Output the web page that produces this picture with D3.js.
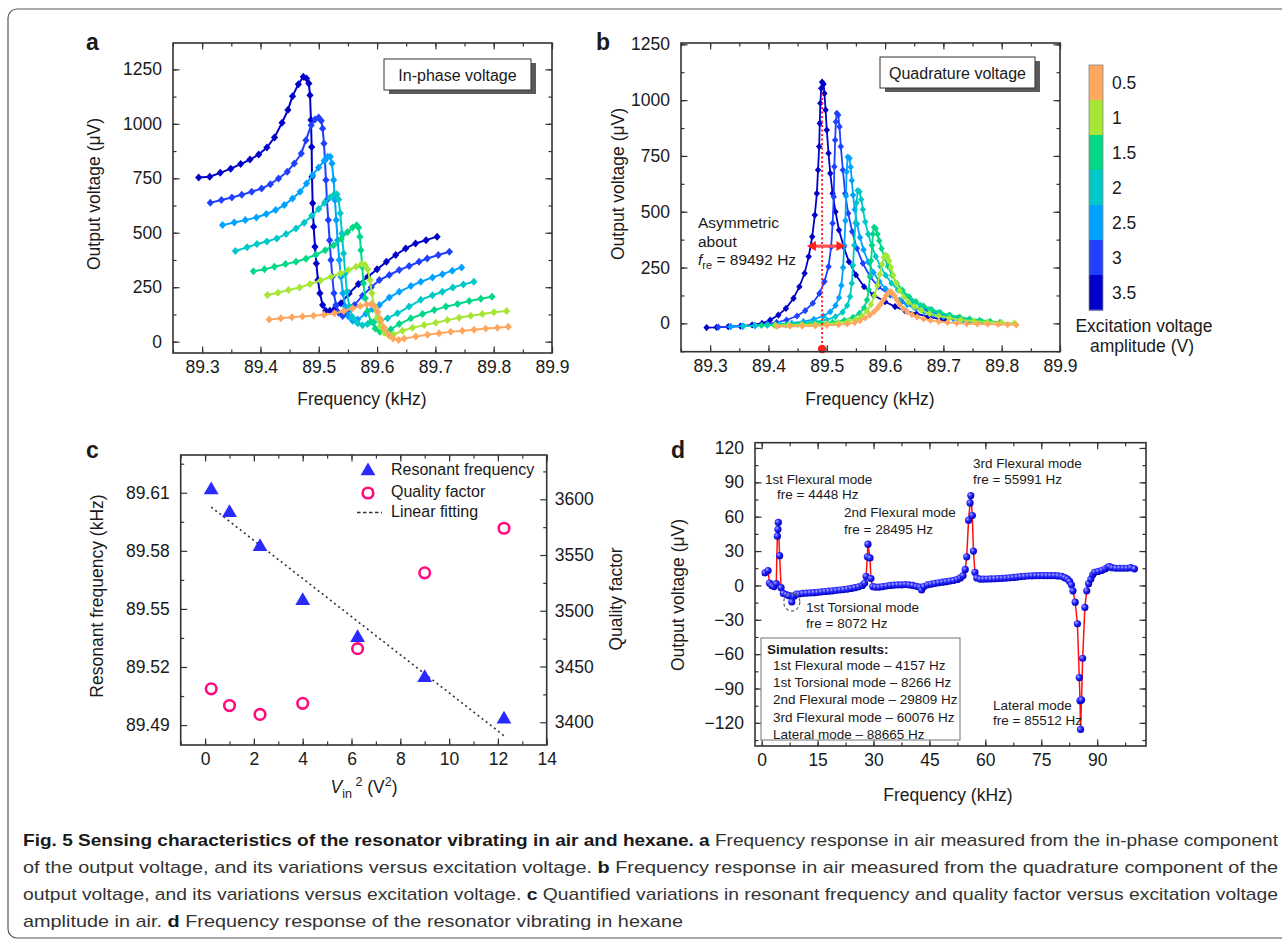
<!DOCTYPE html>
<html>
<head>
<meta charset="utf-8">
<title>Fig. 5 Sensing characteristics of the resonator</title>
<script src="https://d3js.org/d3.v7.min.js"></script>
<style>
  body { margin: 0; background: #fff; }
  svg text { font-family: "Liberation Sans", Arial, Helvetica, sans-serif; fill: #1a1a1a; }
  .tick text { font-size: 17.5px; }
  .tick line { stroke: #333; stroke-width: 1.2; }
</style>
</head>
<body>
<svg id="fig" width="1282" height="944"></svg>
<script>
// ---- data ----
const ampLabels = ["3.5", "3", "2.5", "2", "1.5", "1", "0.5"];
const ampColors = ["#0000c8", "#2040ff", "#00a2ff", "#00c8c8", "#00d787", "#a6e635", "#ffa75e"];

// a: in-phase voltage [kHz, uV]
const aV35 = [[89.294,754],[89.313,757],[89.331,775],[89.349,794],[89.366,815],[89.382,836],[89.397,859],[89.411,891],[89.424,937],[89.437,1005],[89.447,1063],[89.455,1127],[89.465,1182],[89.4735,1216],[89.479,1208],[89.483,1185],[89.485,1131],[89.4866,1017],[89.4878,894],[89.4884,757],[89.4895,635],[89.4912,528],[89.4935,436],[89.4958,359],[89.4986,283],[89.502,222],[89.5066,168],[89.512,142],[89.519,142],[89.528,153],[89.538,176],[89.552,222],[89.568,265],[89.584,298],[89.600,332],[89.616,367],[89.632,398],[89.649,428],[89.666,451],[89.684,466],[89.703,482]];
const aV30 = [[89.314,638],[89.333,650],[89.351,662],[89.368,674],[89.385,688],[89.402,703],[89.417,723],[89.431,749],[89.446,780],[89.458,818],[89.470,864],[89.478,925],[89.487,994],[89.4935,1020],[89.4998,1029],[89.5043,1014],[89.5066,979],[89.5089,910],[89.5106,833],[89.5123,742],[89.514,650],[89.5163,558],[89.5186,466],[89.5209,375],[89.5232,298],[89.526,222],[89.5295,168],[89.534,133],[89.541,118],[89.548,127],[89.561,168],[89.575,211],[89.590,250],[89.604,283],[89.621,306],[89.638,329],[89.655,347],[89.672,367],[89.686,382],[89.705,398],[89.724,413]];
const aV25 = [[89.335,535],[89.355,547],[89.374,558],[89.393,570],[89.410,586],[89.426,604],[89.441,627],[89.455,657],[89.468,688],[89.479,726],[89.4895,765],[89.4998,800],[89.5095,830],[89.5152,849],[89.5198,849],[89.5226,818],[89.5255,742],[89.5277,650],[89.530,558],[89.5323,466],[89.5352,375],[89.538,298],[89.5414,222],[89.5454,161],[89.5511,115],[89.558,96],[89.5666,102],[89.5808,128],[89.592,150],[89.604,168],[89.621,203],[89.638,229],[89.658,255],[89.675,275],[89.695,295],[89.712,310],[89.729,326],[89.745,341]];
const aV20 = [[89.357,416],[89.377,433],[89.394,448],[89.411,460],[89.428,474],[89.444,494],[89.461,520],[89.475,546],[89.488,578],[89.4998,609],[89.510,638],[89.5192,662],[89.5266,677],[89.5312,677],[89.534,653],[89.5369,589],[89.5397,497],[89.5426,405],[89.5454,313],[89.5483,229],[89.5523,161],[89.558,112],[89.5666,84],[89.5751,75],[89.5837,81],[89.5951,92],[89.606,97],[89.618,108],[89.635,130],[89.655,161],[89.675,192],[89.695,213],[89.712,229],[89.730,249],[89.748,263],[89.766,275]];
const aV15 = [[89.388,323],[89.407,332],[89.424,344],[89.443,356],[89.461,367],[89.478,381],[89.495,399],[89.511,420],[89.5255,443],[89.5386,472],[89.5494,503],[89.558,524],[89.5648,534],[89.5683,524],[89.5705,482],[89.5723,420],[89.5745,344],[89.5768,268],[89.5797,199],[89.5837,138],[89.5894,92],[89.5968,61],[89.6048,46],[89.6139,43],[89.6236,57],[89.638,81],[89.658,107],[89.678,127],[89.698,145],[89.718,161],[89.738,173],[89.758,187],[89.778,197],[89.797,206]];
const aV10 = [[89.412,214],[89.430,225],[89.448,237],[89.467,249],[89.485,265],[89.503,281],[89.521,298],[89.537,313],[89.551,329],[89.564,344],[89.5734,356],[89.5791,353],[89.5837,332],[89.5877,283],[89.5911,222],[89.5951,161],[89.5997,107],[89.6054,69],[89.6122,41],[89.6208,27],[89.628,33],[89.6436,50],[89.6607,64],[89.6807,76],[89.7007,87],[89.7207,99],[89.7406,110],[89.7606,119],[89.7806,127],[89.8005,135],[89.8222,141]];
const aV05 = [[89.415,102],[89.435,107],[89.454,112],[89.472,115],[89.491,119],[89.509,124],[89.527,130],[89.543,141],[89.558,153],[89.571,164],[89.582,171],[89.590,173],[89.5962,161],[89.6014,136],[89.6065,102],[89.6122,64],[89.6196,34],[89.6276,15],[89.637,8],[89.6464,14],[89.6664,24],[89.6864,32],[89.7064,39],[89.7263,45],[89.7463,50],[89.7663,55],[89.7863,60],[89.8062,64],[89.825,69]];

// b: quadrature voltage [kHz, uV]
const bV35 = [[89.294,-19],[89.311,-18],[89.331,-15],[89.352,-12],[89.372,-7],[89.389,0],[89.403,15],[89.417,37],[89.430,67],[89.443,112],[89.453,164],[89.462,224],[89.469,299],[89.475,388],[89.4795,485],[89.483,582],[89.485,687],[89.487,792],[89.488,896],[89.489,986],[89.4905,1053],[89.492,1081],[89.4945,1072],[89.496,1030],[89.498,956],[89.500,866],[89.503,762],[89.506,672],[89.510,582],[89.515,500],[89.521,418],[89.529,343],[89.538,276],[89.550,217],[89.564,164],[89.580,127],[89.600,97],[89.617,75],[89.634,57],[89.654,42],[89.674,30],[89.694,19],[89.703,15]];
const bV30 = [[89.314,-17],[89.335,-15],[89.356,-12],[89.377,-9],[89.398,-4],[89.414,4],[89.431,15],[89.449,33],[89.463,57],[89.476,90],[89.4875,134],[89.496,187],[89.503,254],[89.5075,343],[89.510,448],[89.512,567],[89.513,702],[89.5144,821],[89.5156,903],[89.5173,941],[89.5196,933],[89.5218,881],[89.5241,792],[89.5276,687],[89.5316,582],[89.5367,493],[89.5436,411],[89.5516,336],[89.5619,269],[89.5744,209],[89.5887,164],[89.6087,127],[89.6287,97],[89.6487,75],[89.6687,57],[89.6887,42],[89.7087,30],[89.724,22]];
const bV25 = [[89.335,-14],[89.356,-12],[89.377,-10],[89.398,-7],[89.419,-4],[89.440,1],[89.460,8],[89.478,18],[89.494,33],[89.506,52],[89.515,80],[89.521,115],[89.525,170],[89.528,250],[89.530,350],[89.532,460],[89.533,570],[89.534,680],[89.536,745],[89.539,740],[89.541,700],[89.543,640],[89.545,575],[89.548,510],[89.552,445],[89.557,385],[89.563,330],[89.571,275],[89.580,228],[89.590,188],[89.601,155],[89.613,127],[89.625,104],[89.638,84],[89.652,67],[89.667,53],[89.683,40],[89.700,30],[89.717,21],[89.733,14],[89.745,9]];
const bV20 = [[89.357,-12],[89.377,-10],[89.398,-8],[89.419,-6],[89.440,-3],[89.460,1],[89.480,7],[89.500,16],[89.515,30],[89.527,50],[89.535,80],[89.540,120],[89.543,180],[89.545,260],[89.547,350],[89.549,450],[89.551,540],[89.553,595],[89.556,590],[89.559,555],[89.562,510],[89.566,455],[89.571,400],[89.577,350],[89.584,300],[89.592,255],[89.601,215],[89.611,180],[89.622,150],[89.634,123],[89.647,100],[89.661,80],[89.676,63],[89.692,48],[89.709,35],[89.727,24],[89.746,15],[89.766,8]];
const bV15 = [[89.388,-9],[89.410,-8],[89.430,-7],[89.450,-5],[89.470,-3],[89.490,0],[89.510,5],[89.530,14],[89.545,27],[89.556,45],[89.564,70],[89.569,105],[89.572,150],[89.574,210],[89.576,280],[89.578,350],[89.579,400],[89.581,430],[89.584,425],[89.587,400],[89.590,370],[89.594,335],[89.599,295],[89.605,255],[89.612,215],[89.620,180],[89.630,148],[89.641,120],[89.653,97],[89.666,78],[89.680,62],[89.695,48],[89.711,37],[89.728,28],[89.745,20],[89.762,14],[89.780,9],[89.797,5]];
const bV10 = [[89.412,-8],[89.435,-7],[89.457,-6],[89.480,-4],[89.500,-2],[89.520,3],[89.537,10],[89.550,19],[89.560,32],[89.569,55],[89.576,85],[89.582,125],[89.587,170],[89.591,220],[89.595,265],[89.598,295],[89.601,306],[89.604,300],[89.607,280],[89.610,250],[89.614,215],[89.619,180],[89.625,147],[89.632,118],[89.640,95],[89.650,75],[89.662,58],[89.676,44],[89.692,33],[89.710,24],[89.730,16],[89.752,10],[89.775,6],[89.800,3],[89.822,1]];
const bV05 = [[89.415,-14],[89.437,-13],[89.458,-12],[89.480,-11],[89.500,-9],[89.520,-6],[89.535,-3],[89.548,3],[89.557,12],[89.566,24],[89.574,37],[89.581,52],[89.587,68],[89.592,85],[89.597,105],[89.602,125],[89.606,138],[89.609,142],[89.612,137],[89.616,125],[89.620,105],[89.625,85],[89.631,66],[89.638,51],[89.646,39],[89.655,29],[89.666,20],[89.678,13],[89.692,8],[89.707,4],[89.723,1],[89.740,-1],[89.758,-3],[89.776,-4],[89.794,-5],[89.810,-6],[89.825,-7]];
const freRe = 89.492, asymLevel = 346, asymLeft = 89.466, asymRight = 89.532;

// c: resonant frequency and quality factor vs Vin^2
const vin2 = [0.25, 1, 2.25, 4, 6.25, 9, 12.25];
const resFreq = [89.6114, 89.5997, 89.5821, 89.5542, 89.5351, 89.5144, 89.4930];
const qFactor = [3430, 3415, 3407, 3417, 3466, 3534, 3574];
const fitX = [0.25, 12.25];
const fitY = [89.6026, 89.4845];

// d: response in hexane [kHz, uV]
const dFreq = [0.9,1.7,2.1,2.7,3.3,3.9,4.2,4.35,4.45,4.8,5.2,5.8,6.6,7.3,8.07,8.7,9.3,10,11,12,13,14,15,16,17,18,19,20,21,22,23,24,25,26,27,27.6,28.0,28.35,28.5,29.05,29.3,29.8,30.5,31.5,32.5,33.5,34.5,35.5,36.5,37.5,38.5,39.5,40.5,41.5,42.4,42.9,43.5,44.5,45.5,46.5,47.5,48.5,49.5,50.5,51.5,52.5,53.3,54,54.6,55,55.5,55.9,56.1,56.5,56.8,57.2,57.7,58.6,59.5,60.5,61.5,62.5,63.5,64.5,65.5,66.5,67.5,68.5,69.5,70.5,71.5,72.5,73.5,74.5,75.5,76.5,77.5,78.5,79.5,80.5,81.3,82,82.6,83.1,83.5,84.1,84.7,85.2,85.4,85.55,85.8,86.1,86.7,87.2,87.7,88.3,88.8,89.3,90.3,91.3,92.2,92.9,93.3,94,95,96,97,98,99,100];
const dVolt = [11,13,2,0,-1,1.5,43,49,55,26,-2,-7,-8,-9,-14.5,-9.5,-7.5,-7.5,-7,-6.8,-6.5,-6.3,-6,-5.6,-5.3,-5,-4.7,-4.3,-4,-3.6,-3.2,-2.6,-2,-1.2,0,2,8,25,36,24,6,-1,-1.5,-1.5,-1,-0.5,0,0.3,0.5,0.5,0.8,0.5,0,-0.8,-1.5,-4,-1,0.5,1.2,1.8,2.3,2.8,3.3,3.8,4.4,5.2,6.5,8.5,14,25,57,72,78.5,61,30,11.5,6.5,5.5,5.5,5.6,5.7,5.8,6,6.2,6.4,6.6,7,7.3,7.6,7.9,8.2,8.4,8.5,8.5,8.5,8.5,8.5,8.5,8.3,7.9,6.8,5.5,3.5,0.5,-4.7,-14.6,-33.5,-80.5,-100.6,-125.7,-100,-63.6,-19.2,-4.7,1.5,5.5,9.3,11.4,12.2,13.2,14.5,16,16.5,15.5,15,15,15,15,15.5,14.5];
const torsional = [8.07, -14.5];
const simLines = ["1st Flexural mode \u2013 4157 Hz", "1st Torsional mode \u2013 8266 Hz", "2nd Flexural mode \u2013 29809 Hz", "3rd Flexural mode \u2013 60076 Hz", "Lateral mode \u2013 88665 Hz"];

const svg = d3.select("#fig");

// outer frame of the figure
svg.append("rect").attr("x", 8).attr("y", 9).attr("width", 1300).attr("height", 929)
  .attr("rx", 9).attr("fill", "none").attr("stroke", "#555").attr("stroke-width", 1.2);

// boxed axes with inward ticks on all four sides
function boxAxes(g, x, y, o) {
  const [x0, x1] = x.range(), [y0, y1] = y.range();
  const put = (axis, tx, ty, vals, size, fmt, pad) => {
    g.append("g").attr("transform", `translate(${tx},${ty})`)
      .call(axis.tickValues(vals).tickSize(-size).tickPadding(pad).tickFormat(fmt))
      .call(s => s.select(".domain").remove());
  };
  const none = () => "";
  put(d3.axisBottom(x), 0, y0, o.xMinor, 3.5, none, 0);
  put(d3.axisBottom(x), 0, y0, o.xMajor, 6.5, o.xFmt, 8);
  put(d3.axisTop(x), 0, y1, o.xMinor, 3.5, none, 0);
  put(d3.axisTop(x), 0, y1, o.xMajor, 6.5, none, 0);
  put(d3.axisLeft(y), x0, 0, o.yMinor, 3.5, none, 0);
  put(d3.axisLeft(y), x0, 0, o.yMajor, 6.5, o.yFmt, 11);
  if (!o.noRight) {
    put(d3.axisRight(y), x1, 0, o.yMinor, 3.5, none, 0);
    put(d3.axisRight(y), x1, 0, o.yMajor, 6.5, none, 0);
  }
  g.append("rect").attr("x", x0).attr("y", y1).attr("width", x1 - x0).attr("height", y0 - y1)
    .attr("fill", "none").attr("stroke", "#333").attr("stroke-width", 1.6);
}

function panelLetter(x, y, t) {
  svg.append("text").attr("x", x).attr("y", y).attr("font-size", 23).attr("font-weight", "bold").text(t);
}

function yTitle(x, y, t) {
  svg.append("text").attr("transform", `translate(${x},${y}) rotate(-90)`)
    .attr("text-anchor", "middle").attr("font-size", 17.5).text(t);
}

function xTitle(x, y, t) {
  svg.append("text").attr("x", x).attr("y", y).attr("text-anchor", "middle").attr("font-size", 17.5).text(t);
}

function insetBox(x, y, w, h, t) {
  svg.append("rect").attr("x", x + 5).attr("y", y + 4).attr("width", w).attr("height", h).attr("fill", "#5a5a5a");
  svg.append("rect").attr("x", x).attr("y", y).attr("width", w).attr("height", h)
    .attr("fill", "#fff").attr("stroke", "#333").attr("stroke-width", 1);
  svg.append("text").attr("x", x + w / 2).attr("y", y + h / 2 + 6).attr("text-anchor", "middle")
    .attr("font-size", 16).text(t);
}

function drawCurves(g, x, y, list, mk, lw) {
  const line = d3.line().x(d => x(d[0])).y(d => y(d[1]));
  list.forEach((pts, i) => {
    const c = ampColors[i];
    g.append("path").datum(pts).attr("d", line).attr("fill", "none").attr("stroke", c).attr("stroke-width", lw);
    g.selectAll(null).data(pts).join("path").attr("d", mk)
      .attr("transform", d => `translate(${x(d[0])},${y(d[1])})`).attr("fill", c);
  });
}

const fTicks = [89.3, 89.4, 89.5, 89.6, 89.7, 89.8, 89.9];
const fMinor = d3.range(89.25, 89.91, 0.05);
const vTicks = [0, 250, 500, 750, 1000, 1250];
const vMinor = d3.range(-125, 1376, 125);

// ---- panel a ----
const xA = d3.scaleLinear().domain([89.25, 89.9]).range([173, 552]);
const yA = d3.scaleLinear().domain([-52, 1371]).range([353, 43]);
const gA = svg.append("g");
drawCurves(gA, xA, yA, [aV35, aV30, aV25, aV20, aV15, aV10, aV05], "M0,-4L3.6,0L0,4L-3.6,0Z", 2);
boxAxes(gA, xA, yA, { xMajor: fTicks, xMinor: fMinor, yMajor: vTicks, yMinor: vMinor.filter(v => v > -52 && v < 1371), xFmt: d3.format(".1f"), yFmt: d3.format("d") });
insetBox(384, 59, 147, 31, "In-phase voltage");
panelLetter(86, 50, "a");
yTitle(100, 194, "Output voltage (\u03bcV)");
xTitle(362, 405, "Frequency (kHz)");

// ---- panel b ----
const xB = d3.scaleLinear().domain([89.25, 89.9]).range([681, 1060]);
const yB = d3.scaleLinear().domain([-127, 1256]).range([351.7, 43]);
const gB = svg.append("g");
drawCurves(gB, xB, yB, [bV35, bV30, bV25, bV20, bV15, bV10, bV05], "M0,-3.6L3.2,0L0,3.6L-3.2,0Z", 1.8);
gB.append("line").attr("x1", xB(freRe)).attr("x2", xB(freRe)).attr("y1", yB(1030)).attr("y2", yB(-115))
  .attr("stroke", "#ff2020").attr("stroke-width", 2).attr("stroke-dasharray", "2,2.5");
gB.append("circle").attr("cx", xB(freRe)).attr("cy", yB(-115)).attr("r", 4.2).attr("fill", "#ff2020");
[[asymLeft, -1], [asymRight, 1]].forEach(([f, s]) => {
  const xt = xB(f), xc = xB(freRe), yy = yB(asymLevel);
  gB.append("line").attr("x1", xc).attr("x2", xt - s * 6).attr("y1", yy).attr("y2", yy)
    .attr("stroke", "#ff5050").attr("stroke-width", 3.2);
  gB.append("path").attr("d", `M${xt},${yy}L${xt - s * 9},${yy - 5}L${xt - s * 9},${yy + 5}Z`).attr("fill", "#ff2020");
});
boxAxes(gB, xB, yB, { xMajor: fTicks, xMinor: fMinor, yMajor: vTicks, yMinor: vMinor.filter(v => v > -127 && v < 1256), xFmt: d3.format(".1f"), yFmt: d3.format("d") });
insetBox(880, 57, 155, 31, "Quadrature voltage");
panelLetter(596, 50, "b");
yTitle(624, 184, "Output voltage (\u03bcV)");
xTitle(870, 405, "Frequency (kHz)");
const asym = svg.append("g").attr("font-size", 15.5);
asym.append("text").attr("x", 698).attr("y", 228).attr("font-size", 15.5).text("Asymmetric");
asym.append("text").attr("x", 698).attr("y", 247).attr("font-size", 15.5).text("about");
const fre = asym.append("text").attr("x", 698).attr("y", 265).attr("font-size", 15.5);
fre.append("tspan").attr("font-style", "italic").text("f");
fre.append("tspan").attr("font-size", 11).attr("dy", 4).text("re");
fre.append("tspan").attr("dy", -4).text(" = 89492 Hz");

// colour bar
const cbLabels = ["0.5", "1", "1.5", "2", "2.5", "3", "3.5"];
const cbColors = ampColors.slice().reverse();
const cbY = d3.scaleBand().domain(cbLabels).range([65, 310]);
const cb = svg.append("g");
cb.selectAll("rect").data(cbLabels).join("rect")
  .attr("x", 1089).attr("y", d => cbY(d)).attr("width", 14).attr("height", cbY.bandwidth() + 0.5)
  .attr("fill", (d, i) => cbColors[i]);
cb.append("rect").attr("x", 1089).attr("y", 65).attr("width", 14).attr("height", 245)
  .attr("fill", "none").attr("stroke", "#888").attr("stroke-width", 0.8);
cb.selectAll("text").data(cbLabels).join("text")
  .attr("x", 1112).attr("y", d => cbY(d) + cbY.bandwidth() / 2 + 6).attr("font-size", 17.5).text(d => d);
svg.append("text").attr("x", 1144).attr("y", 332).attr("text-anchor", "middle").attr("font-size", 17.5).text("Excitation voltage");
svg.append("text").attr("x", 1142).attr("y", 352).attr("text-anchor", "middle").attr("font-size", 17.5).text("amplitude (V)");

// ---- panel c ----
const xC = d3.scaleLinear().domain([-1, 14]).range([180.7, 546.7]);
const yC = d3.scaleLinear().domain([89.4797, 89.6295]).range([745, 455]);
const yQ = d3.scaleLinear().domain([3379.6, 3639.7]).range([745, 455]);
const gC = svg.append("g");
boxAxes(gC, xC, yC, { xMajor: d3.range(0, 15, 2), xMinor: d3.range(-1, 15, 1), yMajor: [89.49, 89.52, 89.55, 89.58, 89.61], yMinor: [89.505, 89.535, 89.565, 89.595, 89.625], xFmt: d3.format("d"), yFmt: d3.format(".2f"), noRight: true });
gC.append("g").attr("transform", "translate(546.7,0)")
  .call(d3.axisRight(yQ).tickValues([3400, 3450, 3500, 3550, 3600]).tickSize(-6.5).tickPadding(8).tickFormat(d3.format("d")))
  .call(s => s.select(".domain").remove());
gC.append("g").attr("transform", "translate(546.7,0)")
  .call(d3.axisRight(yQ).tickValues([3425, 3475, 3525, 3575, 3625]).tickSize(-3.5).tickFormat(() => ""))
  .call(s => s.select(".domain").remove());
gC.append("line").attr("x1", xC(fitX[0])).attr("y1", yC(fitY[0])).attr("x2", xC(fitX[1])).attr("y2", yC(fitY[1]))
  .attr("stroke", "#333").attr("stroke-width", 1.6).attr("stroke-dasharray", "2,3.2");
const tri = d3.symbol(d3.symbolTriangle, 95)();
gC.selectAll(".tri").data(vin2).join("path").attr("class", "tri").attr("d", tri)
  .attr("transform", (d, i) => `translate(${xC(d)},${yC(resFreq[i])})`).attr("fill", "#2a2aff");
gC.selectAll(".q").data(vin2).join("circle").attr("class", "q")
  .attr("cx", d => xC(d)).attr("cy", (d, i) => yQ(qFactor[i])).attr("r", 5.3)
  .attr("fill", "none").attr("stroke", "#ff0a7f").attr("stroke-width", 2.6);
// legend
gC.append("path").attr("d", tri).attr("transform", "translate(368,471)").attr("fill", "#2a2aff");
gC.append("circle").attr("cx", 368).attr("cy", 493).attr("r", 5.3).attr("fill", "none").attr("stroke", "#ff0a7f").attr("stroke-width", 2.6);
gC.append("line").attr("x1", 357).attr("x2", 382).attr("y1", 512.5).attr("y2", 512.5).attr("stroke", "#333").attr("stroke-width", 1.6).attr("stroke-dasharray", "3.5,2.5");
[["Resonant frequency", 475], ["Quality factor", 497], ["Linear fitting", 517]].forEach(([t, yy]) => {
  gC.append("text").attr("x", 391).attr("y", yy).attr("font-size", 16).text(t);
});
panelLetter(86, 458, "c");
yTitle(103, 596, "Resonant frequency (kHz)");
yTitle(622, 599, "Quality factor");
const vt = svg.append("text").attr("x", 364).attr("y", 793).attr("text-anchor", "middle").attr("font-size", 17.5);
vt.append("tspan").attr("font-style", "italic").text("V");
vt.append("tspan").attr("font-size", 12.5).attr("dy", 5).text("in");
vt.append("tspan").attr("font-size", 12.5).attr("dy", -12).text(" 2");
vt.append("tspan").attr("dy", 7).text(" (V");
vt.append("tspan").attr("font-size", 12.5).attr("dy", -7).text("2");
vt.append("tspan").attr("dy", 7).text(")");

// ---- panel d ----
const xD = d3.scaleLinear().domain([-1.8, 103.1]).range([755, 1146]);
const yD = d3.scaleLinear().domain([-140.2, 124.6]).range([746, 442.7]);
const gD = svg.append("g");
const defs = svg.append("defs");
const grad = defs.append("radialGradient").attr("id", "ball").attr("cx", "35%").attr("cy", "35%").attr("r", "65%");
grad.append("stop").attr("offset", "0%").attr("stop-color", "#a8a8ff");
grad.append("stop").attr("offset", "45%").attr("stop-color", "#2a2aff");
grad.append("stop").attr("offset", "100%").attr("stop-color", "#0000c0");
boxAxes(gD, xD, yD, { xMajor: d3.range(0, 91, 15), xMinor: d3.range(0, 103, 7.5), yMajor: d3.range(-120, 121, 30), yMinor: d3.range(-135, 124, 15), xFmt: d3.format("d"), yFmt: d3.format("d") });
const dPts = dFreq.map((f, i) => [f, dVolt[i]]);
gD.append("path").datum(dPts).attr("d", d3.line().x(d => xD(d[0])).y(d => yD(d[1])))
  .attr("fill", "none").attr("stroke", "#ff1010").attr("stroke-width", 1.5);
gD.selectAll(".dot").data(dPts).join("circle").attr("class", "dot")
  .attr("cx", d => xD(d[0])).attr("cy", d => yD(d[1])).attr("r", 3.6).attr("fill", "url(#ball)");
gD.append("ellipse").attr("cx", xD(torsional[0])).attr("cy", yD(torsional[1])).attr("rx", 8).attr("ry", 9)
  .attr("fill", "none").attr("stroke", "#666").attr("stroke-width", 1.3).attr("stroke-dasharray", "3,2.5");
const ann = [["1st Flexural mode", 765, 484], ["fre = 4448 Hz", 777, 499], ["2nd Flexural mode", 844, 517], ["fre = 28495 Hz", 844, 534],
  ["3rd Flexural mode", 973, 468], ["fre = 55991 Hz", 973, 484], ["1st Torsional mode", 806, 612], ["fre = 8072 Hz", 806, 628],
  ["Lateral mode", 993, 710], ["fre = 85512 Hz", 993, 725]];
ann.forEach(([t, x, y]) => gD.append("text").attr("x", x).attr("y", y).attr("font-size", 13.5).text(t));
gD.append("rect").attr("x", 761).attr("y", 638).attr("width", 199).attr("height", 102)
  .attr("fill", "#fff").attr("stroke", "#8a8a8a").attr("stroke-width", 1.2);
gD.append("text").attr("x", 767).attr("y", 654).attr("font-size", 13.5).attr("font-weight", "bold").text("Simulation results:");
simLines.forEach((t, i) => gD.append("text").attr("x", 773).attr("y", 670 + i * 17.2).attr("font-size", 13.5).text(t));
panelLetter(671, 458, "d");
yTitle(684, 595, "Output voltage (\u03bcV)");
xTitle(948, 801, "Frequency (kHz)");

// ---- caption ----
const capLines = [
  [["Fig. 5 Sensing characteristics of the resonator vibrating in air and hexane. a", true], [" Frequency response in air measured from the in-phase component", false]],
  [["of the output voltage, and its variations versus excitation voltage. ", false], ["b", true], [" Frequency response in air measured from the quadrature component of the", false]],
  [["output voltage, and its variations versus excitation voltage. ", false], ["c", true], [" Quantified variations in resonant frequency and quality factor versus excitation voltage", false]],
  [["amplitude in air. ", false], ["d", true], [" Frequency response of the resonator vibrating in hexane", false]]
];
const capWidths = [1255, 1255, 1255, 660];
capLines.forEach((parts, i) => {
  const t = svg.append("text").attr("x", 23).attr("y", 846 + i * 27).attr("font-size", 17)
    .attr("textLength", capWidths[i]).attr("lengthAdjust", "spacingAndGlyphs");
  parts.forEach(([s, b]) => t.append("tspan").attr("font-weight", b ? "bold" : "normal")
    .attr("fill", b ? "#1a1a1a" : "#333").text(s));
});
</script>
</body>
</html>
